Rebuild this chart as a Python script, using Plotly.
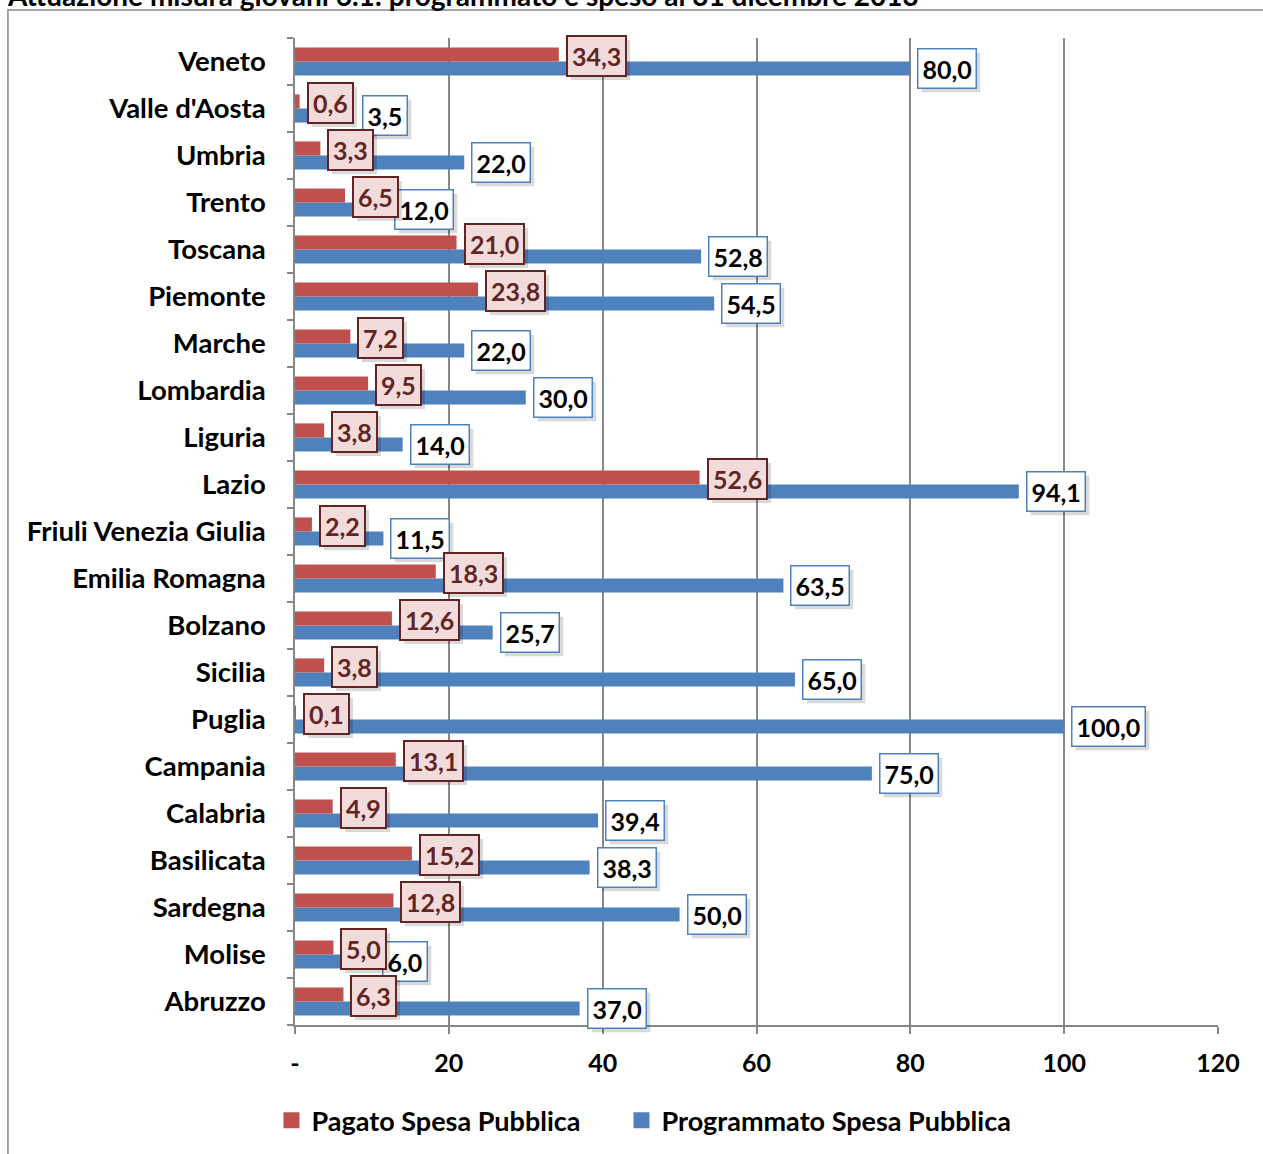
import plotly.graph_objects as go

regions = ["Veneto", "Valle d'Aosta", "Umbria", "Trento", "Toscana", "Piemonte",
           "Marche", "Lombardia", "Liguria", "Lazio", "Friuli Venezia Giulia",
           "Emilia Romagna", "Bolzano", "Sicilia", "Puglia", "Campania",
           "Calabria", "Basilicata", "Sardegna", "Molise", "Abruzzo"]
pagato = [34.3, 0.6, 3.3, 6.5, 21.0, 23.8, 7.2, 9.5, 3.8, 52.6, 2.2, 18.3,
          12.6, 3.8, 0.1, 13.1, 4.9, 15.2, 12.8, 5.0, 6.3]
programmato = [80.0, 3.5, 22.0, 12.0, 52.8, 54.5, 22.0, 30.0, 14.0, 94.1, 11.5,
               63.5, 25.7, 65.0, 100.0, 75.0, 39.4, 38.3, 50.0, 6.0, 37.0]
x_tickvals = [0, 20, 40, 60, 80, 100, 120]
x_ticktext = ["-", "20", "40", "60", "80", "100", "120"]
series_names = ["Pagato Spesa Pubblica", "Programmato Spesa Pubblica"]
title_text = "Attuazione misura giovani 6.1: programmato e speso al 31 dicembre 2013"

RED = "#c0504d"
BLUE = "#4f81bd"
DARKRED = "#632523"
GRID = "#878787"
FONT = "Lato"

# label nudges (pixels) for labels moved aside to avoid overlaps
blue_nudge = {"Valle d'Aosta": 33, "Molise": 34}

cats = regions[::-1]
pag = pagato[::-1]
prog = programmato[::-1]

fig = go.Figure()
fig.add_trace(go.Bar(y=cats, x=prog, orientation="h", name=series_names[1],
                     marker=dict(color=BLUE, line=dict(width=0)), showlegend=False))
fig.add_trace(go.Bar(y=cats, x=pag, orientation="h", name=series_names[0],
                     marker=dict(color=RED, line=dict(width=0)), showlegend=False))
# legend entries (square swatches), one legend box each
for nm, col, lg in zip(series_names, [RED, BLUE], ["legend", "legend2"]):
    fig.add_trace(go.Scatter(x=[None], y=[None], mode="markers", name=nm, legend=lg,
                             marker=dict(symbol="square", size=17, color=col,
                                         line=dict(width=0)),
                             showlegend=True))

def fmt(v):
    return f"{v:.1f}".replace(".", ",")

ann = []
def add_label(cat, v, yshift, xshift, bg, border, bw, color):
    txt = f"<b>{fmt(v)}</b>"
    ann.append(dict(x=v, y=cat, xref="x", yref="y", text=txt, showarrow=False,
                    xanchor="left", yanchor="middle", xshift=xshift + 4, yshift=yshift - 4,
                    font=dict(family=FONT, size=25, color="rgba(0,0,0,0)"),
                    bgcolor="rgba(0,0,0,0.15)", borderwidth=bw, bordercolor="rgba(0,0,0,0)",
                    borderpad=4))
    ann.append(dict(x=v, y=cat, xref="x", yref="y", text=txt, showarrow=False,
                    xanchor="left", yanchor="middle", xshift=xshift, yshift=yshift,
                    font=dict(family=FONT, size=25, color=color),
                    bgcolor=bg, borderwidth=bw, bordercolor=border, borderpad=4))

for c, v in zip(cats, prog):
    add_label(c, v, -7, 7 + blue_nudge.get(c, 0), "white", BLUE, 1.5, "black")
for c, v in zip(cats, pag):
    add_label(c, v, 5.5, 7, "#f2dcdb", DARKRED, 2, DARKRED)

ann.append(dict(x=-0.3142, y=1.0438, xref="paper", yref="paper", text=f"<b>{title_text}</b>",
                showarrow=False, xanchor="left", yanchor="middle",
                font=dict(family=FONT, size=28, color="black")))

legend_common = dict(orientation="h", yanchor="middle", xanchor="left", y=-0.097,
                     font=dict(family=FONT, size=27, color="black", weight="bold"),
                     itemwidth=30, bgcolor="rgba(0,0,0,0)", borderwidth=0)

fig.update_layout(
    width=1263, height=1154,
    margin=dict(l=295, r=45, t=38, b=129, autoexpand=False),
    paper_bgcolor="white", plot_bgcolor="white",
    barmode="group", bargap=0.40, bargroupgap=0,
    showlegend=True,
    legend=dict(x=-0.0255, **legend_common),
    legend2=dict(x=0.3537, **legend_common),
    font=dict(family=FONT),
    annotations=ann,
    shapes=[dict(type="rect", xref="paper", yref="paper", x0=-0.311, x1=1.2,
                 y0=-0.2, y1=1.0284, line=dict(color="#898989", width=1.5),
                 fillcolor="rgba(0,0,0,0)", layer="below")],
)
fig.update_xaxes(range=[0, 120], tickvals=x_tickvals, ticktext=x_ticktext,
                 showgrid=True, gridcolor=GRID, gridwidth=1.5,
                 showline=True, linecolor=GRID, linewidth=1.5,
                 ticks="outside", ticklen=7, tickcolor=GRID, tickwidth=1.5,
                 ticklabelstandoff=8, zeroline=False,
                 tickfont=dict(family=FONT, size=25, color="black", weight="bold"))
fig.update_yaxes(categoryorder="array", categoryarray=cats, tickson="boundaries",
                 range=[-0.5, len(cats) - 0.5],
                 showline=True, linecolor=GRID, linewidth=1.5,
                 ticks="outside", ticklen=6, tickcolor=GRID, tickwidth=1.5,
                 ticklabelstandoff=22, showgrid=False,
                 tickfont=dict(family=FONT, size=27.5, color="black", weight="bold"))

fig.write_html("out.html")
